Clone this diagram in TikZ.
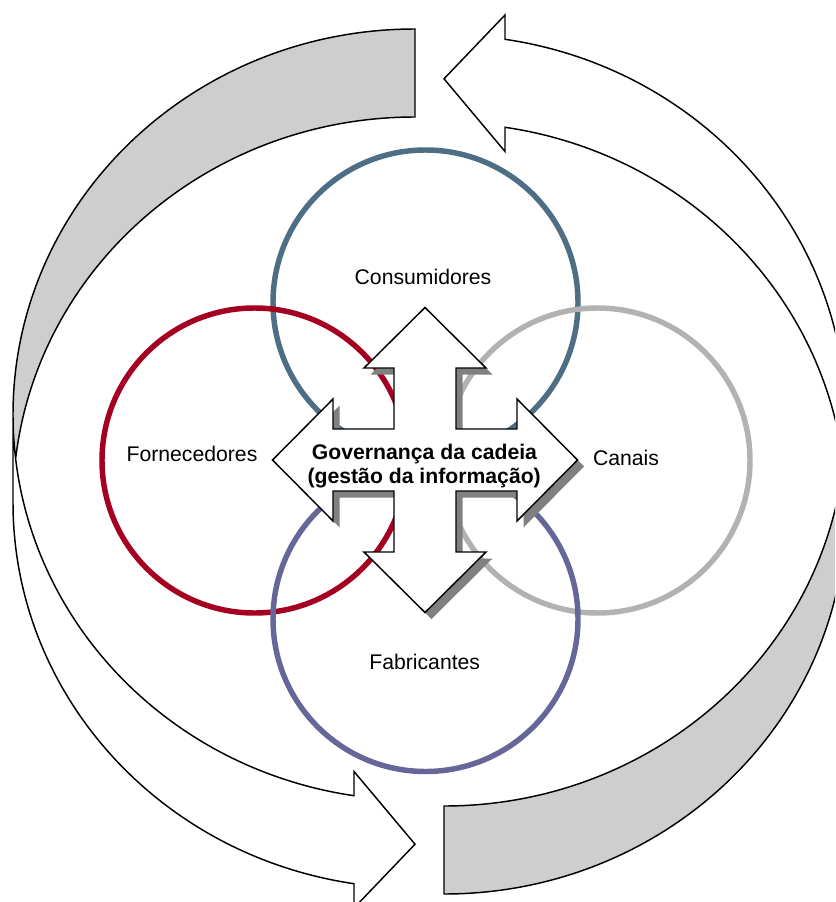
\documentclass[tikz,border=0pt]{standalone}
\usepackage{fontspec}
\setmainfont{Liberation Sans}
\definecolor{ringTop}{RGB}{78,110,133}
\definecolor{ringLeft}{RGB}{165,0,33}
\definecolor{ringRight}{RGB}{178,178,178}
\definecolor{ringBottom}{RGB}{102,102,153}
\definecolor{backGray}{RGB}{206,206,206}
\definecolor{shadowGray}{RGB}{128,128,128}

% Curved band arrow: tail (shaded back face) at the top, arrowhead at the bottom
\newcommand\bandArrow{%
  % front face
  \path[fill=white] (13,414.6)
    arc[start angle=180, end angle=98.73, x radius=402, y radius=385.6]
    -- (354,771.5) -- (415,844.2) -- (354,908) -- (354,883.7)
    arc[start angle=98.73, end angle=180, x radius=402, y radius=385.6]
    -- cycle;
  % back face
  \path[fill=backGray] (415,29)
    arc[start angle=270, end angle=173.45, x radius=402, y radius=385.6]
    arc[start angle=186.55, end angle=270, x radius=402, y radius=385.6]
    -- cycle;
  % outline
  \draw[outline] (13,414.6)
    arc[start angle=180, end angle=98.73, x radius=402, y radius=385.6]
    -- (354,771.5) -- (415,844.2) -- (354,908) -- (354,883.7)
    arc[start angle=98.73, end angle=180, x radius=402, y radius=385.6]
    -- (13,414.6)
    arc[start angle=180, end angle=270, x radius=402, y radius=385.6]
    -- (415,117)
    arc[start angle=270, end angle=186.55, x radius=402, y radius=385.6];
}

% Four-way arrow outline around the origin
\newcommand\quadArrowPath{%
  (0,-152.5) -- (61,-92) -- (31,-92) -- (31,-31) -- (92,-31) -- (92,-61)
  -- (152.5,0) -- (92,61) -- (92,31) -- (31,31) -- (31,92) -- (61,92)
  -- (0,152.5) -- (-61,92) -- (-31,92) -- (-31,31) -- (-92,31) -- (-92,61)
  -- (-152.5,0) -- (-92,-61) -- (-92,-31) -- (-31,-31) -- (-31,-92) -- (-61,-92)
  -- cycle}

\begin{document}
\begin{tikzpicture}[x=0.75pt,y=-0.75pt,
  outline/.style={draw=black, line width=1.1pt, line join=miter},
  ring/.style={line width=4.1pt},
  label/.style={font=\fontsize{15.9}{18}\selectfont, inner sep=0pt, anchor=base},
  govlabel/.style={label, font=\fontsize{15.9}{18}\selectfont\bfseries},
]
\useasboundingbox (0,0) rectangle (835,902);
\clip (0,0) rectangle (835,902);

% the two circulating arrows
\bandArrow
\begin{scope}[rotate around={180:(429.5,461.5)}]
  \bandArrow
\end{scope}

% the four partner circles
\draw[ring, ringTop]    (425.5,302.5) circle[radius=152.5];
\draw[ring, ringLeft]   (254.5,460.5) circle[radius=152.5];
\draw[ring, ringRight]  (597.5,460.5) circle[radius=152.5];
\draw[ring, ringBottom] (425.5,619)   circle[radius=152.5];

\node[label] (cons)  at (423,284)   {Consumidores};
\node[label] (forn)  at (192,461.7) {Fornecedores};
\node[label] (canal) at (626,465.7) {Canais};
\node[label] (fabr)  at (424.7,669.3) {Fabricantes};

% central four-way arrow with drop shadow
\coordinate (hub) at (425,460);
\begin{scope}[shift={(hub)}, shift={(6.5,6.5)}]
  \fill[shadowGray] \quadArrowPath;
\end{scope}
\begin{scope}[shift={(hub)}]
  \filldraw[outline, fill=white] \quadArrowPath;
\end{scope}

\node[govlabel] (govA) at (424.5,459) {Governança da cadeia};
\node[govlabel] (govB) at (424.2,483) {(gestão da informação)};
\end{tikzpicture}
\end{document}
